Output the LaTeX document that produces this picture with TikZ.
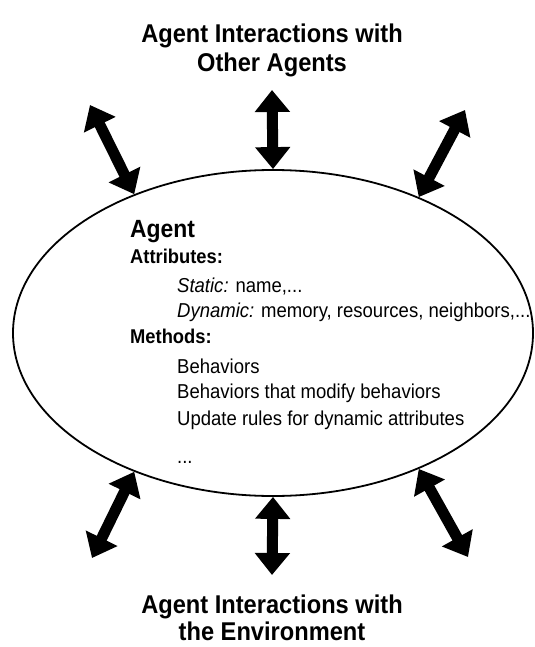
\documentclass[tikz,border=0pt]{standalone}
\usepackage{fontspec}
\setmainfont{Liberation Sans}[FakeStretch=0.92]
\usetikzlibrary{arrows.meta,shapes.geometric}
\tikzset{
  heading/.style={font=\bfseries\fontsize{25.8}{30}\selectfont, anchor=base, inner sep=0},
  entry/.style={font=\fontsize{20.2}{24}\selectfont, anchor=base west, inner sep=0},
  bigarrow/.style={line width=11bp, {Triangle[length=22bp,width=34bp]}-{Triangle[length=22bp,width=34bp]}}
}
\begin{document}
\begin{tikzpicture}[x=1bp,y=-1bp]
\useasboundingbox (0,0) rectangle (535,647);
%\draw[color=gray!50,dashed] (0,0) grid[step=50] (535,647);
\node[heading] (top1) at (272,43) {Agent Interactions with};
\node[heading] (top2) at (272,72) {Other Agents};
\node[heading] (bot1) at (272,613) {Agent Interactions with};
\node[heading] (bot2) at (272,640) {the Environment};
\node[draw, ellipse, line width=1.8bp, inner sep=0, minimum width=520bp, minimum height=326bp] (agent) at (273,333) {};
\node[entry, font=\bfseries\fontsize{25}{30}\selectfont] (name) at (130,237) {Agent};
\node[entry, font=\bfseries\fontsize{20}{24}\selectfont] (attrs) at (130,263) {Attributes:};
\node[entry] (static) at (177,292) {\textit{Static:} name,...};
\node[entry] (dynamic) at (177,317) {\textit{Dynamic:} memory, resources, neighbors,...};
\node[entry, font=\bfseries\fontsize{20}{24}\selectfont] (methods) at (130,343) {Methods:};
\node[entry] (beh) at (177,373) {Behaviors};
\node[entry] (behmod) at (177,398) {Behaviors that modify behaviors};
\node[entry] (update) at (177,425) {Update rules for dynamic attributes};
\node[entry] (more) at (177,463) {...};
% free ends of the arrows
\foreach \n/\x/\y in {otl/90/105, otc/272/90, otr/465/110, obl/92/558, obc/272/575, obr/468/557}
  \coordinate (\n) at (\x,\y);
\foreach \n/\a in {otl/135, otc/90, otr/43, obl/225, obc/270, obr/317}
  \draw[bigarrow] (\n) -- (agent.\a);
\end{tikzpicture}
\end{document}
